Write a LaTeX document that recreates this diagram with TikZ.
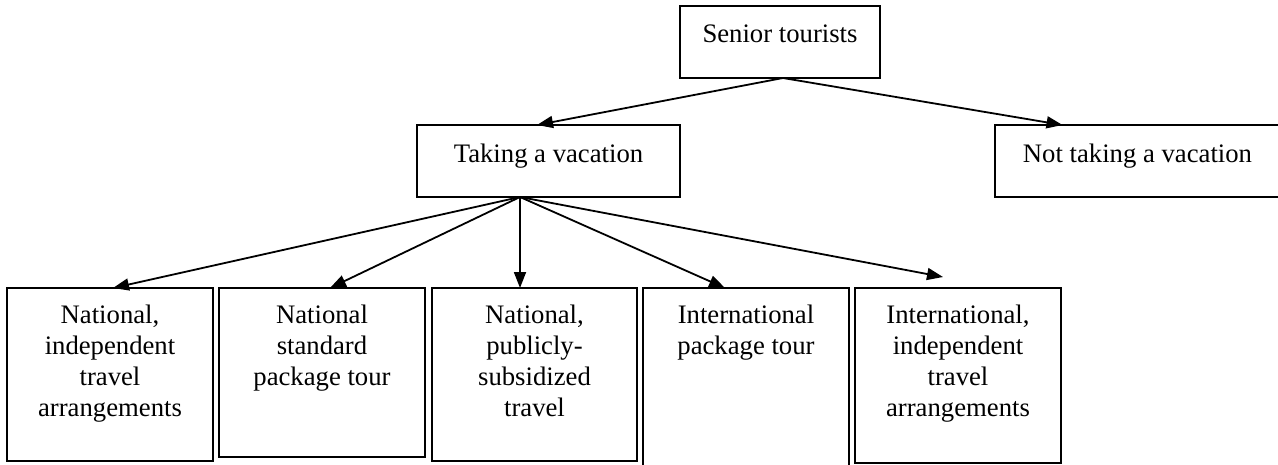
\documentclass[tikz,border=0pt]{standalone}
\usepackage{fontspec}
\setmainfont{Liberation Serif}
\usetikzlibrary{arrows.meta}
\newcommand{\bxtext}[4]{\parbox[c][#2pt][t]{#1pt}{\centering\rule{0pt}{#3pt}#4\par}}
\tikzset{
  box/.style={draw=black, line width=1.8pt, inner sep=0pt, outer sep=0pt, anchor=north west,
    font=\fontsize{26.7}{31}\selectfont},
  arr/.style={line width=1.8pt, -{Triangle[length=16pt,width=12pt]}}
}
\begin{document}
\begin{tikzpicture}[x=1pt,y=-1pt]
\useasboundingbox (0,0) rectangle (1278,464);
\fill[white] (0,0) rectangle (1278,464);
\clip (0,0) rectangle (1278,464);
\node[box] (senior) at (680,6) {\bxtext{200}{72}{36}{Senior tourists}};
\node[box] (taking) at (417,125) {\bxtext{263}{72}{37}{Taking a vacation}};
\node[box] (nottaking) at (995,125) {\bxtext{285}{72}{37}{Not taking a vacation}};
\node[box] (b1) at (7,288) {\bxtext{206}{173}{35}{National,\\independent\\travel\\arrangements}};
\node[box] (b2) at (219,288) {\bxtext{206}{169}{35}{National\\standard\\package tour}};
\node[box] (b3) at (432,288) {\bxtext{205}{173}{35}{National,\\publicly-\\subsidized\\travel}};
\node[box] (b4) at (643,288) {\bxtext{206}{190}{35}{International\\package tour}};
\node[box] (b5) at (855,288) {\bxtext{206}{175}{35}{International,\\independent\\travel\\arrangements}};
\coordinate (hub) at ([xshift=-28.5pt]taking.south);
\coordinate (end5) at ([xshift=-15pt,yshift=11pt]b5.north);
\draw[arr] ([xshift=3pt]senior.south) -- ([xshift=-11.5pt]taking.north);
\draw[arr] ([xshift=3pt]senior.south) -- ([xshift=-75pt]nottaking.north);
\draw[arr] (hub) -- ([xshift=3pt]b1.north);
\draw[arr] (hub) -- ([xshift=8pt]b2.north);
\draw[arr] (hub) -- (hub |- b3.north);
\draw[arr] (hub) -- ([xshift=-21pt]b4.north);
\draw[arr] (hub) -- (end5);
\end{tikzpicture}
\end{document}
